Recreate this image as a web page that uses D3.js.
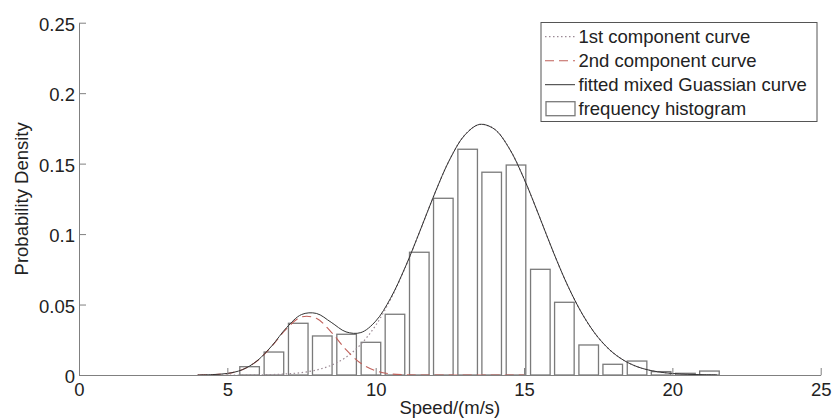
<!DOCTYPE html>
<html>
<head>
<meta charset="utf-8">
<script src="https://cdn.jsdelivr.net/npm/d3@7"></script>
<style>
	body { margin: 0; background: #fff; }
	text { font-family: "Liberation Sans", Arial, sans-serif; fill: #222; }
</style>
</head>
<body>
<div id="chart-area"></div>
<script>
// histogram bins (bin centres, m/s) and their densities
const binCenters = [5.75, 6.57, 7.39, 8.20, 9.02, 9.84, 10.65, 11.47, 12.28, 13.10,
	13.91, 14.73, 15.55, 16.36, 17.18, 17.99, 18.81, 19.62, 20.44, 21.25]
const binDensity = [0.0059, 0.0163, 0.0367, 0.0277, 0.0289, 0.0232, 0.0431, 0.0871, 0.1254, 0.1602,
	0.1439, 0.1490, 0.0750, 0.0516, 0.0213, 0.0076, 0.0099, 0.0024, 0.0012, 0.0028]

// curve points (null = not drawn there)
const curveX = [4, 4.5, 5, 5.5, 6, 6.5, 7, 7.5, 8, 8.5, 9, 9.5, 10, 10.5, 11, 11.5, 12, 12.5,
	13, 13.5, 14, 14.5, 15, 15.5, 16, 16.5, 17, 17.5, 18, 18.5, 19, 19.5, 20, 20.5, 21, 21.5]
const comp1 = [0, 0, 0, 0, 0.0001, 0.0003, 0.0008, 0.0017, 0.0035, 0.0069, 0.0126, 0.0218, 0.0352, 0.0536,
	0.0765, 0.1026, 0.1293, 0.1531, 0.1702, 0.1778, 0.1745, 0.1609, 0.1393, 0.1134, 0.0866, 0.0622,
	0.0420, 0.0266, 0.0158, 0.0088, 0.0046, 0.0023, 0.0011, 0.0005, 0.0002, 0.0001]
const comp2 = [0, 0.0003, 0.0011, 0.0037, 0.0099, 0.0204, 0.0329, 0.0412, 0.0402, 0.0305, 0.0180, 0.0083,
	0.0030, 0.0008, 0.0002, 0, 0, 0, 0, 0, 0, 0, 0,
	null, null, null, null, null, null, null, null, null, null, null, null, null]
const mixed = [0, 0.0003, 0.0011, 0.0037, 0.0100, 0.0207, 0.0337, 0.0429, 0.0437, 0.0374, 0.0306, 0.0301,
	0.0382, 0.0544, 0.0767, 0.1026, 0.1293, 0.1531, 0.1702, 0.1778, 0.1745, 0.1609, 0.1393, 0.1134,
	0.0866, 0.0622, 0.0420, 0.0266, 0.0158, 0.0088, 0.0046, 0.0023, 0.0011, 0.0005, 0.0002, 0.0001]

// ticks and labels
const xTicks = [0, 5, 10, 15, 20, 25]
const yTicks = [0, 0.05, 0.1, 0.15, 0.2, 0.25]
const yTickLabels = ['0', '0.05', '0.1', '0.15', '0.2', '0.25']
const legendLabels = ['1st component curve', '2nd component curve', 'fitted mixed Guassian curve', 'frequency histogram']

const margin = {
	top: 22.7,
	left: 79,
	right: 11.3,
	bottom: 44
}

const width = 832 - margin.left - margin.right
const height = 419 - margin.top - margin.bottom
const barWidth = 0.66
const fontSize = 18.5

let svg = d3.select('#chart-area')
	.append('svg')
	.attr('width', 832)
	.attr('height', 419)

let g = svg.append('g')
	.attr('transform', 'translate(' + margin.left + ',' + margin.top + ')')

let xScale = d3.scaleLinear()
	.domain([0, 25])
	.range([0, width])

let yScale = d3.scaleLinear()
	.domain([0, 0.25])
	.range([height, 0])

// histogram bars
g.selectAll('rect.bar')
	.data(binCenters)
	.enter()
	.append('rect')
	.attr('class', 'bar')
	.attr('x', d => xScale(d - barWidth / 2))
	.attr('width', d => xScale(d + barWidth / 2) - xScale(d - barWidth / 2))
	.attr('y', (d, i) => yScale(binDensity[i]))
	.attr('height', (d, i) => yScale(0) - yScale(binDensity[i]))
	.attr('fill', '#fff')
	.attr('stroke', '#7a7a7a')
	.attr('stroke-width', 1.3)

// curves
let line = d3.line()
	.defined(d => d[1] !== null)
	.x(d => xScale(d[0]))
	.y(d => yScale(Math.max(0, d[1])))
	.curve(d3.curveCatmullRom)

const curves = [
	{ values: comp1, color: '#9c8a95', dash: '1.5,2.5', w: 1.2 },
	{ values: comp2, color: '#c0605a', dash: '9,5', w: 1.1 },
	{ values: mixed, color: '#333', dash: null, w: 1 }
]

curves.forEach(c => {
	g.append('path')
		.datum(curveX.map((x, i) => [x, c.values[i]]))
		.attr('d', line)
		.attr('fill', 'none')
		.attr('stroke', c.color)
		.attr('stroke-width', c.w)
		.attr('stroke-dasharray', c.dash)
})

// axes, ticks pointing inward
let xAxis = d3.axisBottom(xScale)
	.tickValues(xTicks)
	.tickSizeInner(-7)
	.tickSizeOuter(0)
	.tickPadding(7.5)

let xg = g.append('g')
	.attr('transform', 'translate(0,' + height + ')')
	.call(xAxis)

let yAxis = d3.axisLeft(yScale)
	.tickValues(yTicks)
	.tickFormat((d, i) => yTickLabels[i])
	.tickSizeInner(-7)
	.tickSizeOuter(0)
	.tickPadding(4)

let yg = g.append('g')
	.call(yAxis)

svg.selectAll('.domain, .tick line')
	.attr('stroke', '#808080')

svg.selectAll('.tick text')
	.attr('font-size', fontSize)
	.attr('font-family', '"Liberation Sans", Arial, sans-serif')
	.attr('fill', '#222')

yg.selectAll('.tick text').attr('dy', '0.42em')

// axis titles
svg.append('text')
	.attr('x', margin.left + width / 2)
	.attr('y', 413.5)
	.attr('text-anchor', 'middle')
	.attr('font-size', fontSize)
	.text('Speed/(m/s)')

svg.append('text')
	.attr('transform', 'translate(22,' + (margin.top + height / 2) + ') rotate(-90)')
	.attr('text-anchor', 'middle')
	.attr('dy', '0.35em')
	.attr('font-size', fontSize)
	.text('Probability Density')

// legend
let legend = svg.append('g')
	.attr('transform', 'translate(541,22.5)')

legend.append('rect')
	.attr('width', 276)
	.attr('height', 99)
	.attr('fill', '#fff')
	.attr('stroke', '#555')
	.attr('stroke-width', 1)

legendLabels.forEach((label, i) => {
	let cy = 14.2 + i * 24
	if (i < 3) {
		legend.append('line')
			.attr('x1', 4)
			.attr('x2', 34)
			.attr('y1', cy)
			.attr('y2', cy)
			.attr('stroke', curves[i].color)
			.attr('stroke-width', curves[i].w)
			.attr('stroke-dasharray', curves[i].dash)
	} else {
		legend.append('rect')
			.attr('x', 5)
			.attr('y', cy - 7)
			.attr('width', 29)
			.attr('height', 14)
			.attr('fill', '#fff')
			.attr('stroke', '#7a7a7a')
			.attr('stroke-width', 1.3)
	}
	legend.append('text')
		.attr('x', 37.5)
		.attr('y', cy)
		.attr('dy', '0.35em')
		.attr('font-size', fontSize)
		.text(label)
})
</script>
</body>
</html>
